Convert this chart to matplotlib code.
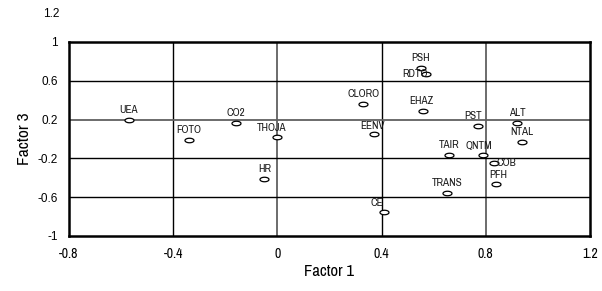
import matplotlib
matplotlib.use("Agg")
import matplotlib.pyplot as plt
from matplotlib.path import Path
import matplotlib.transforms as mtransforms
import numpy as np

# Data
labels = ["UEA", "FOTO", "CO2", "THOJA", "HR", "PSH", "RDTO", "CLORO", "EHAZ",
          "PST", "ALT", "EENV", "NTAL", "TAIR", "QNTM", "COB", "PFH", "TRANS", "CE"]
factor1 = [-0.57, -0.34, -0.16, 0.00, -0.05, 0.55, 0.57, 0.33, 0.56,
           0.77, 0.92, 0.37, 0.94, 0.66, 0.79, 0.83, 0.84, 0.65, 0.41]
factor3 = [0.20, -0.01, 0.17, 0.02, -0.41, 0.73, 0.67, 0.36, 0.29,
           0.13, 0.17, 0.05, -0.03, -0.16, -0.16, -0.25, -0.46, -0.56, -0.75]
xticks = [-0.8, -0.4, 0, 0.4, 0.8, 1.2]
xticklabels = ["-0.8", "-0.4", "0", "0.4", "0.8", "1.2"]
yticks = [-1, -0.6, -0.2, 0.2, 0.6, 1]
yticklabels = ["-1", "-0.6", "-0.2", "0.2", "0.6", "1"]

# label placement styles (pixel offsets, ha, va)
default_style = (0, 5, "center", "bottom")
label_style = {
    "THOJA": (-6, 4, "center", "bottom"),
    "PST": (-5, 5, "center", "bottom"),
    "QNTM": (-4, 4, "center", "bottom"),
    "CE": (-7, 4, "center", "bottom"),
    "EENV": (-1, 3, "center", "bottom"),
    "EHAZ": (-2, 5, "center", "bottom"),
    "PFH": (2, 4, "center", "bottom"),
    "RDTO": (2, 0, "right", "center"),
    "COB": (3, 0, "left", "center"),
}

narrow = ["Archivo Narrow", "Liberation Sans", "DejaVu Sans"]
regular = ["Liberation Sans", "DejaVu Sans"]

fig = plt.figure(figsize=(6.02, 2.91), dpi=100)
ax = fig.add_axes([69/602, 1-236/291, (590-69)/602, (236-42)/291])
ax.set_xlim(-0.8, 1.2)
ax.set_ylim(-1, 1)

for xv in [-0.4, 0.4]:
    ax.axvline(xv, color="black", lw=1, zorder=1)
for xv in [0, 0.8]:
    ax.axvline(xv, color="#606060", lw=1.3, zorder=1)
for yv in [0.6, -0.2, -0.6]:
    ax.axhline(yv, color="black", lw=1, zorder=1)
ax.axhline(0.2, color="#606060", lw=1.3, zorder=1)

theta = np.linspace(0, 2*np.pi, 40)
ell = Path(np.column_stack([np.cos(theta), 0.5*np.sin(theta)]))
ax.plot(factor1, factor3, linestyle="none", marker=ell, markersize=6.5,
        markerfacecolor="white", markeredgecolor="black", markeredgewidth=0.9, zorder=3)

for lab, x, y in zip(labels, factor1, factor3):
    dx, dy, ha, va = label_style.get(lab, default_style)
    ax.annotate(lab, (x, y), xytext=(dx*0.72, dy*0.72), textcoords="offset points",
                ha=ha, va=va, fontsize=8, family=narrow, color="#1a1a1a", zorder=4)

for s in ax.spines.values():
    s.set_linewidth(1.8)
    s.set_color("black")

ax.set_xticks(xticks)
ax.set_xticklabels(xticklabels, family=narrow, fontsize=10)
ax.set_yticks(yticks)
ax.set_yticklabels(yticklabels, family=regular, fontsize=8.5)
ax.tick_params(axis="y", length=0, pad=8)
ax.tick_params(axis="x", length=0, pad=8)
ax.text(-0.019, 1.29, "1.2", transform=mtransforms.blended_transform_factory(ax.transAxes, ax.transData),
        ha="right", va="center", family=regular, fontsize=8.5, clip_on=False)

ax.set_xlabel("Factor 1", family=narrow, fontsize=12, labelpad=2)
ax.set_ylabel("Factor 3", family=narrow, fontsize=12.5, labelpad=4)

fig.savefig("out.png", dpi=100)
